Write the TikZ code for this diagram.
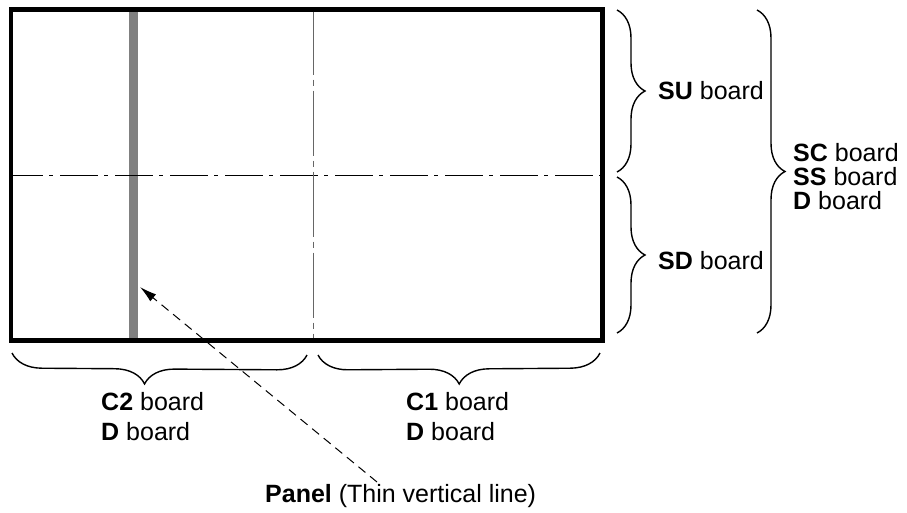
\documentclass[tikz,border=0pt]{standalone}
\usepackage{fontspec}
\setmainfont{Liberation Sans}
\usetikzlibrary{decorations.pathreplacing,arrows.meta,calc}
\begin{document}
\begin{tikzpicture}[x=1pt,y=-1pt,
  lbl/.style={font=\fontsize{25}{24}\selectfont, inner sep=0pt, align=left, anchor=west},
  brc/.style={decorate, decoration={brace, amplitude=#1}, line width=1.4pt},
  brc/.default=28pt,
  board/.style={line width=4.5pt},
  hdash/.style={line width=1pt, dash pattern=on 38pt off 6pt on 4pt off 7pt, dash phase=6pt},
  vdash/.style={line width=1pt, black!60, dash pattern=on 65pt off 5pt on 6pt off 5pt},
  pointer/.style={line width=1pt, dash pattern=on 9pt off 6pt, -{Latex[length=17pt,width=9pt]}}]
\useasboundingbox (0,0) rectangle (907,512);
% panel bar
\node[fill=black!50, minimum width=9pt, minimum height=331pt, inner sep=0pt, anchor=north] (bar) at (133.5,9.5) {};
% division lines
\draw[hdash] (11,175) -- (602.5,175);
\draw[vdash] (313,9.5) -- (313,340.5);
% board outline
\draw[board] (11,9.5) rectangle (602.5,340.5);
% right braces
\draw[brc] (617,10) -- (617,172);
\draw[brc] (617,177) -- (617,333);
\draw[brc] (757,10) -- (757,333);
% bottom braces
\draw[brc=30pt, decoration={aspect=0.55}] (307,355) -- (12,353);
\draw[brc=30pt] (600,353) -- (318,355);
% labels
\node[lbl] (su) at (658,91) {\textbf{SU} board};
\node[lbl] (sd) at (658,261) {\textbf{SD} board};
\node[lbl] (sc) at (793,176.5) {\textbf{SC} board\\\textbf{SS} board\\\textbf{D} board};
\node[lbl, font=\fontsize{25}{30}\selectfont] (c2) at (101,417) {\textbf{C2} board\\\textbf{D} board};
\node[lbl, font=\fontsize{25}{30}\selectfont] (c1) at (406,417) {\textbf{C1} board\\\textbf{D} board};
\node[lbl, anchor=base west] (panel) at (265,502) {\textbf{Panel} (Thin vertical line)};
% pointer
\coordinate (tip) at (140,287);
\coordinate (pstart) at ($(panel.base west)+(112,-20)$);
\draw[pointer] (pstart) -- (tip);
\end{tikzpicture}
\end{document}
